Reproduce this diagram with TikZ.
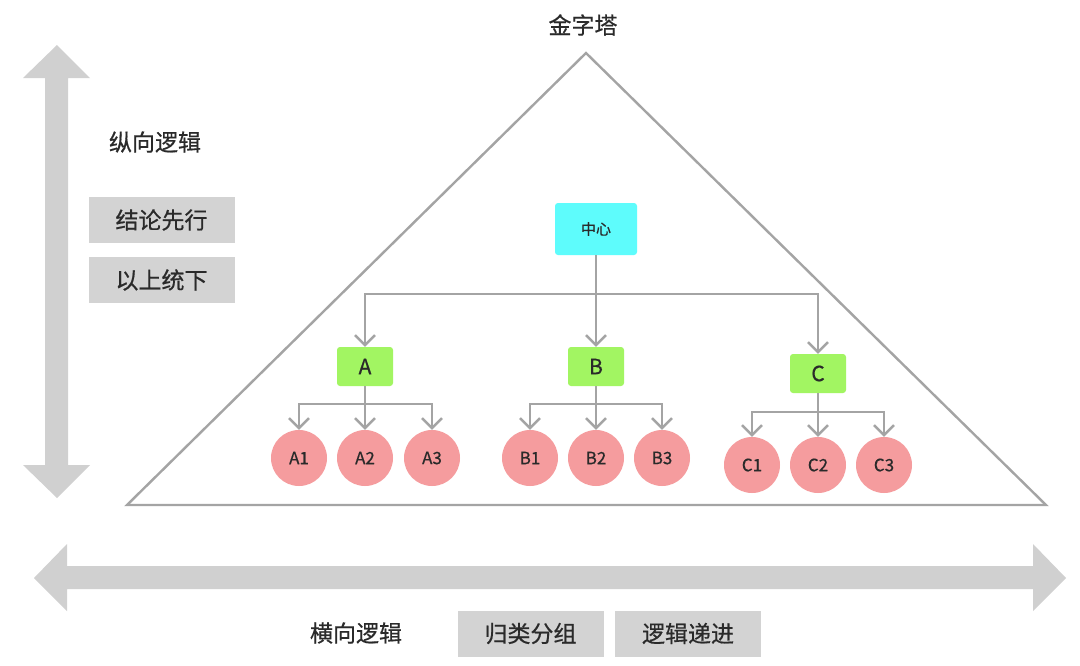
\documentclass[tikz,border=0pt]{standalone}
\usepackage{fontspec}
\setmainfont{Noto Sans CJK SC}
\newfontfamily\medfont[FakeBold=0.6]{Noto Sans CJK SC}
\usetikzlibrary{arrows.meta}
\definecolor{cyanbox}{HTML}{5EFCFC}
\definecolor{greenbox}{HTML}{A2F562}
\definecolor{pinkc}{HTML}{F59C9E}
\definecolor{graybox}{HTML}{D3D3D3}
\definecolor{bigarrow}{HTML}{D0D0D0}
\definecolor{linegray}{HTML}{A4A4A4}
\definecolor{txt}{HTML}{2A2A2A}
\tikzset{
  lbl/.style={text=txt,font=\medfont\fontsize{23}{25}\selectfont,inner sep=0pt},
  tagbox/.style={fill=graybox,text=txt,font=\medfont\fontsize{23}{25}\selectfont,minimum width=146pt,minimum height=46pt,inner sep=0pt},
  centerbox/.style={fill=cyanbox,rounded corners=3pt,text=txt,font=\medfont\fontsize{15}{17}\selectfont,minimum width=82pt,minimum height=52pt,inner sep=0pt},
  midbox/.style={fill=greenbox,rounded corners=3pt,text=txt,font=\medfont\fontsize{21}{23}\selectfont,minimum width=56pt,minimum height=39pt,inner sep=0pt},
  leaf/.style={circle,fill=pinkc,text=txt,font=\medfont\fontsize{17}{19}\selectfont,minimum size=56pt,inner sep=0pt},
  conn/.style={draw=linegray,line width=2.4pt,-{Straight Barb[length=10pt,width=20pt,line width=2.4pt]}},
  tri/.style={draw=linegray,line width=2.4pt,line join=miter},
}
\begin{document}
\begin{tikzpicture}[x=1pt,y=-1pt]
\useasboundingbox[fill=white] (0,0) rectangle (1080,665);
% big arrows
\fill[bigarrow] (57,45) -- (90,78) -- (68,78) -- (68,465) -- (90,465) -- (57,498) -- (23,465) -- (45,465) -- (45,78) -- (23,78) -- cycle;
\fill[bigarrow] (34,578) -- (67,544) -- (67,566) -- (1033,566) -- (1033,544) -- (1066,578) -- (1033,611) -- (1033,589) -- (67,589) -- (67,611) -- cycle;
% triangle
\draw[tri] (586,53) -- (1046,505) -- (127,505) -- cycle;
\node[lbl] (title) at (583,25) {金字塔};
% left labels
\node[lbl] (vlogic) at (155,142) {纵向逻辑};
\node[tagbox] (t1) at (161.5,220) {结论先行};
\node[tagbox] (t2) at (161.5,280) {以上统下};
% bottom labels
\node[lbl] (hlogic) at (356,633) {横向逻辑};
\node[tagbox] (t3) at (530.5,633.5) {归类分组};
\node[tagbox] (t4) at (688,633.5) {逻辑递进};
% tree
\node[centerbox] (zx) at (596,229) {中心};
\node[midbox] (A) at (365,366.5) {A};
\node[midbox] (B) at (596,366.5) {B};
\node[midbox] (C) at (818,373.5) {C};
\node[leaf] (A1) at (299,458) {A1};
\node[leaf] (A2) at (365,458) {A2};
\node[leaf] (A3) at (432,458) {A3};
\node[leaf] (B1) at (530,458) {B1};
\node[leaf] (B2) at (596,458) {B2};
\node[leaf] (B3) at (662,458) {B3};
\node[leaf] (C1) at (752,465) {C1};
\node[leaf] (C2) at (818,465) {C2};
\node[leaf] (C3) at (884,465) {C3};
\coordinate (bus) at (596,294);
\draw[conn] (zx.south) -- (B.north);
\draw[conn] (bus) -| (A.north);
\draw[conn] (bus) -| (C.north);
\coordinate (busA) at (365,404);
\coordinate (busB) at (596,404);
\coordinate (busC) at (818,412);
\draw[conn] (A.south) -- (A2.north);
\draw[conn] (busA) -| (A1.north);
\draw[conn] (busA) -| (A3.north);
\draw[conn] (B.south) -- (B2.north);
\draw[conn] (busB) -| (B1.north);
\draw[conn] (busB) -| (B3.north);
\draw[conn] (C.south) -- (C2.north);
\draw[conn] (busC) -| (C1.north);
\draw[conn] (busC) -| (C3.north);
\end{tikzpicture}
\end{document}
